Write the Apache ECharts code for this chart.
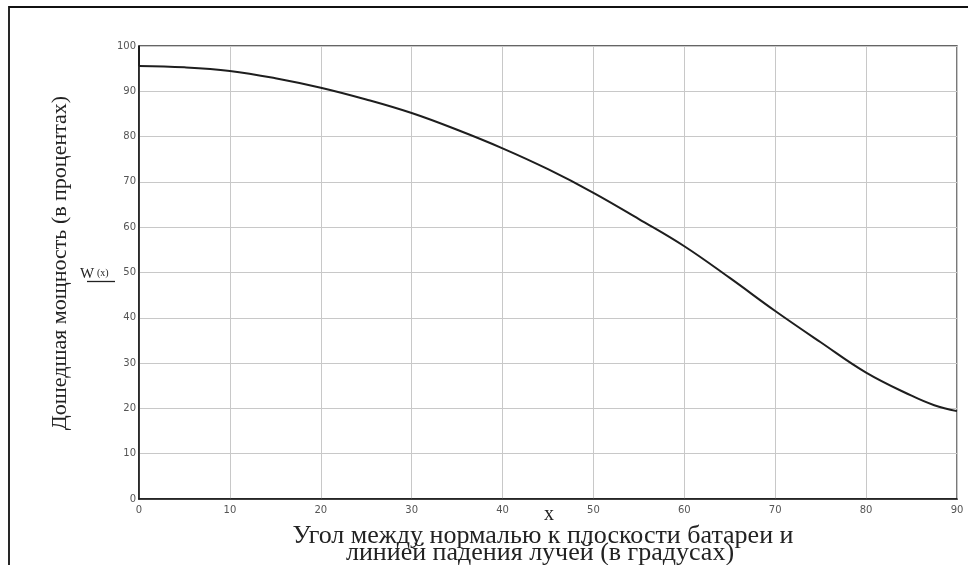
<!DOCTYPE html>
<html>
<head>
<meta charset="utf-8">
<script src="https://cdn.jsdelivr.net/npm/echarts@6/dist/echarts.min.js"></script>
<style>html,body{margin:0;padding:0;background:#fff;}#c{width:968px;height:565px;}</style>
</head>
<body>
<div id="c"></div>
<script>
// Data
var xValues = [0, 5, 10, 15, 20, 25, 30, 35, 40, 45, 50, 55, 60, 65, 70, 75, 80, 85, 87.5, 90];
var wValues = [95.6, 95.3, 94.5, 92.9, 90.8, 88.2, 85.2, 81.5, 77.4, 72.8, 67.6, 61.8, 55.8, 48.8, 41.5, 34.6, 27.9, 22.8, 20.7, 19.4];
// initial jump at x = 0 (from 100 down to the curve start)
var jumpX = [0, 0];
var jumpW = [100, 95.6];
var xTicks = [0, 10, 20, 30, 40, 50, 60, 70, 80, 90];
var yTicks = [0, 10, 20, 30, 40, 50, 60, 70, 80, 90, 100];

var yTitle = 'Дошедшая мощность (в процентах)';
var xTitle1 = 'Угол между нормалью к плоскости батареи и';
var xTitle2 = 'линией падения лучей (в градусах)';

var curve = xValues.map(function (x, i) { return [x, wValues[i]]; });
var jump = jumpX.map(function (x, i) { return [x, jumpW[i]]; });

var chart = echarts.init(document.getElementById('c'), null, {renderer: 'canvas'});
var labelStyle = {color: '#555', fontSize: 10, fontFamily: 'DejaVu Sans'};
chart.setOption({
  animation: false,
  backgroundColor: '#fff',
  grid: {left: 139, top: 46, right: 11, bottom: 66, show: true, borderColor: '#333', borderWidth: 1.3, backgroundColor: 'transparent'},
  xAxis: {
    type: 'value', min: xTicks[0], max: xTicks[xTicks.length - 1], interval: 10,
    axisLine: {show: true, onZero: false, lineStyle: {color: '#111', width: 1.5}},
    axisTick: {show: false},
    splitLine: {show: true, lineStyle: {color: '#c8c8c8', width: 1}},
    axisLabel: Object.assign({margin: 6}, labelStyle)
  },
  yAxis: {
    type: 'value', min: yTicks[0], max: yTicks[yTicks.length - 1], interval: 10,
    axisLine: {show: true, onZero: false, lineStyle: {color: '#111', width: 1.5}},
    axisTick: {show: false},
    splitLine: {show: true, lineStyle: {color: '#c8c8c8', width: 1}},
    axisLabel: Object.assign({margin: 3}, labelStyle)
  },
  series: [
    {type: 'line', data: curve, smooth: 0.4, showSymbol: false, lineStyle: {color: '#1e1e1e', width: 2}, z: 5},
    {type: 'line', data: jump, showSymbol: false, lineStyle: {color: '#1e1e1e', width: 2}, z: 5}
  ],
  graphic: [
    {type: 'rect', shape: {x: 9, y: 7, width: 1000, height: 600}, style: {fill: 'none', stroke: '#111', lineWidth: 1.8}, silent: true},
    {type: 'text', x: 60, y: 263, rotation: Math.PI / 2, style: {text: yTitle, font: '22px "Liberation Serif"', fill: '#222', align: 'center', verticalAlign: 'middle'}},
    {type: 'text', x: 80, y: 274, style: {text: 'W', font: '15px "Liberation Serif"', fill: '#222', align: 'left', verticalAlign: 'middle'}},
    {type: 'text', x: 97, y: 273, style: {text: '(x)', font: '10px "Liberation Serif"', fill: '#222', align: 'left', verticalAlign: 'middle'}},
    {type: 'line', shape: {x1: 87, y1: 281.5, x2: 115, y2: 281.5}, style: {stroke: '#222', lineWidth: 1.3}},
    {type: 'text', x: 549, y: 515, style: {text: 'x', font: '20px "Liberation Serif"', fill: '#222', align: 'center', verticalAlign: 'middle'}},
    {type: 'text', x: 543, y: 536, style: {text: xTitle1, font: '26px "Liberation Serif"', fill: '#222', align: 'center', verticalAlign: 'middle'}},
    {type: 'text', x: 540, y: 553, style: {text: xTitle2, font: '26px "Liberation Serif"', fill: '#222', align: 'center', verticalAlign: 'middle'}}
  ]
});
</script>
</body>
</html>
